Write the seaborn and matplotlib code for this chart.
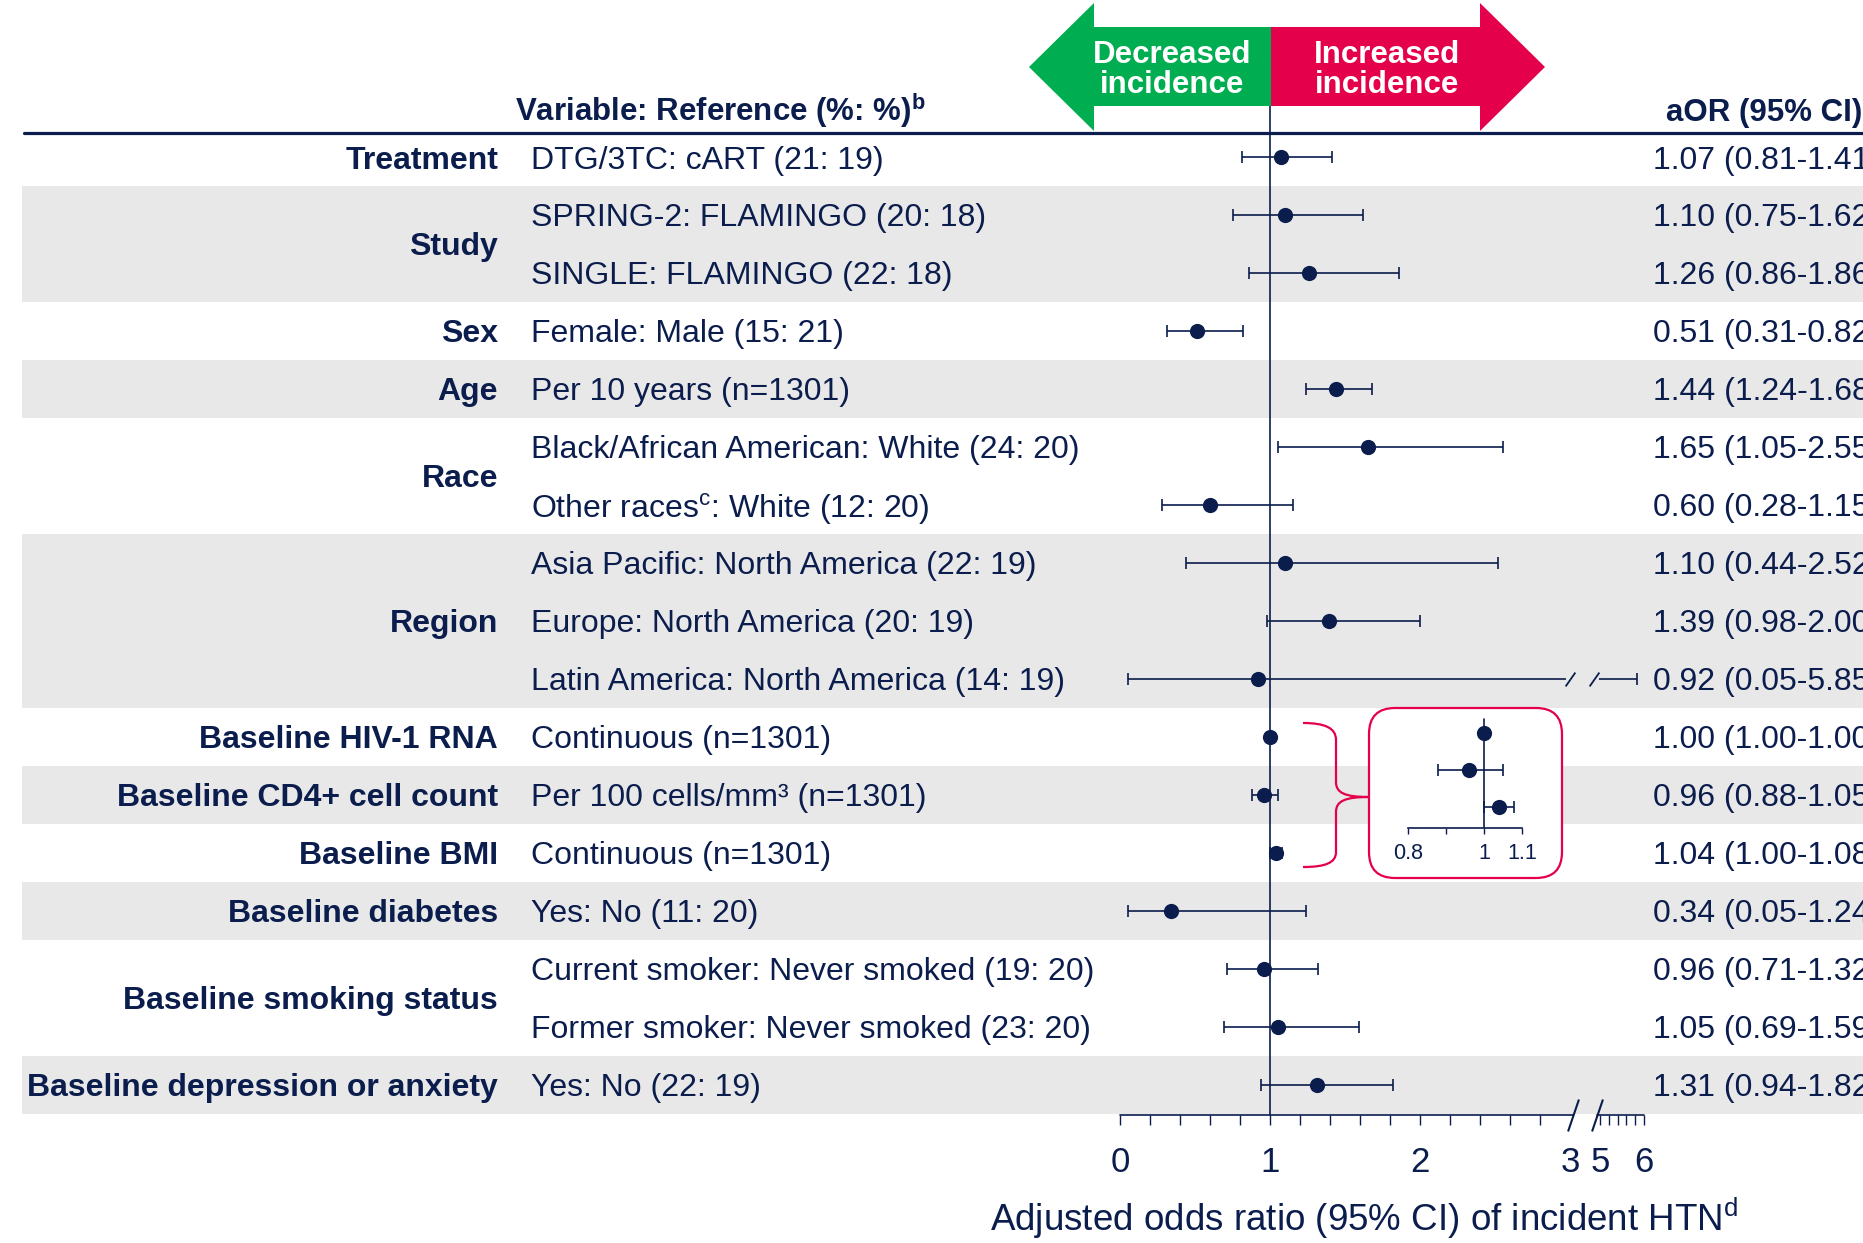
import numpy as np
import pandas as pd
import matplotlib.pyplot as plt
import matplotlib.transforms as mtransforms
from matplotlib.patches import Polygon, FancyBboxPatch, PathPatch
from matplotlib.path import Path
from matplotlib.lines import Line2D
import seaborn as sns

# ---- data ----
groups = ["Treatment", "Study", "Sex", "Age", "Race", "Region",
          "Baseline HIV-1 RNA", "Baseline CD4+ cell count", "Baseline BMI",
          "Baseline diabetes", "Baseline smoking status",
          "Baseline depression or anxiety"]
group_sizes = [1, 2, 1, 1, 2, 3, 1, 1, 1, 1, 2, 1]
comparisons = [
    "DTG/3TC: cART (21: 19)",
    "SPRING-2: FLAMINGO (20: 18)",
    "SINGLE: FLAMINGO (22: 18)",
    "Female: Male (15: 21)",
    "Per 10 years (n=1301)",
    "Black/African American: White (24: 20)",
    "Other races$^{\\mathrm{c}}$: White (12: 20)",
    "Asia Pacific: North America (22: 19)",
    "Europe: North America (20: 19)",
    "Latin America: North America (14: 19)",
    "Continuous (n=1301)",
    "Per 100 cells/mm\u00b3 (n=1301)",
    "Continuous (n=1301)",
    "Yes: No (11: 20)",
    "Current smoker: Never smoked (19: 20)",
    "Former smoker: Never smoked (23: 20)",
    "Yes: No (22: 19)",
]
aor = [1.07, 1.10, 1.26, 0.51, 1.44, 1.65, 0.60, 1.10, 1.39, 0.92,
       1.00, 0.96, 1.04, 0.34, 0.96, 1.05, 1.31]
ci_low = [0.81, 0.75, 0.86, 0.31, 1.24, 1.05, 0.28, 0.44, 0.98, 0.05,
          1.00, 0.88, 1.00, 0.05, 0.71, 0.69, 0.94]
ci_high = [1.41, 1.62, 1.86, 0.82, 1.68, 2.55, 1.15, 2.52, 2.00, 5.85,
           1.00, 1.05, 1.08, 1.24, 1.32, 1.59, 1.82]
inset_rows = [10, 11, 12]          # HIV-1 RNA, CD4+, BMI zoomed in
x_ticks = [0, 1, 2, 3, 5, 6]
inset_ticks = [0.8, 0.9, 1.0, 1.1]
inset_tick_labels = ["0.8", "", "1", "1.1"]

NAVY = "#0b1d4d"
BAND = "#e8e8e8"
GREEN = "#00ad50"
RED = "#e4004b"
FS = 23

sns.set_theme(style="white")
plt.rcParams["font.family"] = ["Liberation Sans", "DejaVu Sans"]
plt.rcParams["mathtext.fontset"] = "custom"
plt.rcParams["mathtext.rm"] = "Liberation Sans"
plt.rcParams["mathtext.bf"] = "Liberation Sans:bold"

W, H, DPI = 1863, 1243, 100
fig = plt.figure(figsize=(W / DPI, H / DPI), dpi=DPI, facecolor="white")
# pixel coordinates measured from the top-left corner
pix = mtransforms.Affine2D().scale(1 / DPI, -1 / DPI).translate(0, H / DPI) + fig.dpi_scale_trans


# broken x axis: linear 0-3, squeezed 3-5, compressed 5-6
def fwd(x):
    x = np.asarray(x, float)
    return np.where(x <= 3, x, np.where(x <= 5, 3 + (x - 3) * 0.1, 3.2 + (x - 5) * 0.293))


def inv(p):
    p = np.asarray(p, float)
    return np.where(p <= 3, p, np.where(p <= 3.2, 3 + (p - 3) * 10, 5 + (p - 3.2) / 0.293))


ax_l, ax_top, ax_bot = 22, 133, 1115
ax = fig.add_axes([ax_l / W, 1 - ax_bot / H, (W - ax_l) / W, (ax_bot - ax_top) / H])
ax.set_facecolor("none")
ax.set_xscale("function", functions=(fwd, inv))
ax.set_xlim(-(1120 - ax_l) / 150, float(inv((W - 1120) / 150)))
ax.set_ylim(16.52, -0.414)
for s in ax.spines.values():
    s.set_visible(False)

rows = np.arange(len(aor))
starts = np.cumsum([0] + group_sizes[:-1])

# alternating grey bands
for k, (st, n) in enumerate(zip(starts, group_sizes)):
    if k % 2 == 1:
        ax.axhspan(st - 0.5, st + n - 0.5, color=BAND, lw=0, zorder=0)

# reference line at 1
ax.axvline(1, ymin=0, ymax=(ax_bot - 106) / (ax_bot - ax_top), color=NAVY, lw=1.2,
           clip_on=False, zorder=2)

# confidence intervals (with break for values past 3)
slash_row = Path([(0.7, 1), (-0.7, -1)], [Path.MOVETO, Path.LINETO])
BRK_A, BRK_B = 2.97, 4.9
for y, lo, hi in zip(rows, ci_low, ci_high):
    if hi > 3:
        ax.hlines(y, lo, BRK_A, color=NAVY, lw=1.2, zorder=3)
        ax.hlines(y, BRK_B, hi, color=NAVY, lw=1.2, zorder=3)
        ax.plot([3.0, 4.6], [y, y], ls="none", marker=slash_row, ms=10,
                mec=NAVY, mfc="none", mew=1.3, zorder=3)
    else:
        ax.hlines(y, lo, hi, color=NAVY, lw=1.2, zorder=3)
    if hi > lo:
        ax.plot([lo, hi], [y, y], ls="none", marker="|", ms=8.5, mew=1.2,
                color=NAVY, zorder=3)

df = pd.DataFrame({"aor": aor, "row": rows})
sns.scatterplot(data=df, x="aor", y="row", ax=ax, s=120, color=NAVY,
                linewidth=0, zorder=4, legend=False)
ax.set_ylabel("")
ax.set_yticks([])

# x axis with break
xa = ax.get_xaxis_transform()
ax.plot([0, 3.23], [0, 0], transform=xa, color=NAVY, lw=1.2, clip_on=False)
ax.plot([4.77, 6], [0, 0], transform=xa, color=NAVY, lw=1.2, clip_on=False)
slash_axis = Path([(0.34, 1), (-0.34, -1)], [Path.MOVETO, Path.LINETO])
ax.plot([3.23, 4.77], [0, 0], transform=xa, ls="none", marker=slash_axis, ms=23,
        mec=NAVY, mfc="none", mew=1.5, clip_on=False)
ax.xaxis.set_major_locator(plt.FixedLocator(x_ticks))
ax.xaxis.set_major_formatter(plt.FixedFormatter([str(t) for t in x_ticks]))
minor = [t for t in np.round(np.arange(0.2, 2.81, 0.2), 2) if t not in x_ticks]
minor += [5.2, 5.4, 5.6, 5.8]
ax.xaxis.set_minor_locator(plt.FixedLocator(minor))
ax.tick_params(axis="x", which="both", direction="out", length=7, width=1,
               color=NAVY, labelcolor=NAVY, labelsize=25, pad=15, bottom=True)
ax.xaxis.get_major_ticks()[3].tick1line.set_visible(False)
ax.set_xlabel("Adjusted odds ratio (95% CI) of incident HTN$^{\\mathrm{d}}$",
              fontsize=26.5, color=NAVY)
ax.xaxis.set_label_coords((1364 - ax_l) / (W - ax_l), -(1218 - ax_bot) / (ax_bot - ax_top))
ax.xaxis.label.set_va("center")

# table text
yt = ax.get_yaxis_transform()
fx = lambda px: (px - ax_l) / (W - ax_l)
for g, st, n in zip(groups, starts, group_sizes):
    ax.text(fx(498), st + (n - 1) / 2, g, transform=yt, ha="right", va="center_baseline",
            fontsize=FS, fontweight="bold", color=NAVY)
for y, c, o, lo, hi in zip(rows, comparisons, aor, ci_low, ci_high):
    ax.text(fx(531), y, c, transform=yt, ha="left", va="center_baseline",
            fontsize=FS, color=NAVY)
    ax.text(fx(1653), y, f"{o:.2f} ({lo:.2f}-{hi:.2f})", transform=yt, ha="left",
            va="center_baseline", fontsize=FS, color=NAVY, clip_on=False)

# headers
fig.text(720 / W, 1 - 121 / H, "Variable: Reference (%: %)$^{\\mathbf{b}}$", ha="center",
         va="baseline", fontsize=22.5, fontweight="bold", color=NAVY)
fig.text(1666 / W, 1 - 121 / H, "aOR (95% CI)", ha="left", va="baseline",
         fontsize=22.5, fontweight="bold", color=NAVY)
fig.add_artist(Line2D([24, W], [133, 133], transform=pix, color=NAVY, lw=2.3))

# direction arrows
green = [(1029, 67), (1094, 3), (1094, 27), (1271, 27), (1271, 106), (1094, 106), (1094, 131)]
red = [(1545, 67), (1480, 3), (1480, 27), (1271, 27), (1271, 106), (1480, 106), (1480, 131)]
fig.add_artist(Polygon(green, closed=True, transform=pix, fc=GREEN, ec="none", zorder=3))
fig.add_artist(Polygon(red, closed=True, transform=pix, fc=RED, ec="none", zorder=3))
fig.text(1172 / W, 1 - 70 / H, "Decreased\nincidence", ha="center", va="center",
         fontsize=22.5, fontweight="bold", color="white", linespacing=1.02, zorder=4)
fig.text(1387 / W, 1 - 70 / H, "Increased\nincidence", ha="center", va="center",
         fontsize=22.5, fontweight="bold", color="white", linespacing=1.02, zorder=4)

# zoom inset box and brace
fig.add_artist(FancyBboxPatch((1369, 708), 193, 170, boxstyle="round,pad=0,rounding_size=26",
                              transform=pix, fc="white", ec=RED, lw=1.6, zorder=3))
brace = Path([(1303, 723), (1325, 723), (1336, 728), (1336, 740),
              (1336, 782),
              (1336, 793), (1345, 797), (1369, 797),
              (1345, 797), (1336, 801), (1336, 812),
              (1336, 852),
              (1336, 863), (1325, 867), (1303, 867)],
             [Path.MOVETO, Path.CURVE4, Path.CURVE4, Path.CURVE4,
              Path.LINETO,
              Path.CURVE4, Path.CURVE4, Path.CURVE4,
              Path.CURVE4, Path.CURVE4, Path.CURVE4,
              Path.LINETO,
              Path.CURVE4, Path.CURVE4, Path.CURVE4])
fig.add_artist(PathPatch(brace, transform=pix, fc="none", ec=RED, lw=1.6, zorder=3))

il, ir, it, ib = 1390, 1545, 715, 828
axi = fig.add_axes([il / W, 1 - ib / H, (ir - il) / W, (ib - it) / H], zorder=5)
axi.set_facecolor("none")
axi.set_xlim(0.8 - (1408 - il) / 380, 1 + (ir - 1484) / 380)
axi.set_ylim(2.568, -0.486)
for k, s in axi.spines.items():
    s.set_visible(k == "bottom")
axi.spines["bottom"].set_bounds(0.8, 1.1)
axi.spines["bottom"].set_color(NAVY)
axi.spines["bottom"].set_linewidth(1.2)
axi.axvline(1, ymin=0, ymax=(ib - 719) / (ib - it), color=NAVY, lw=1.2)
iy = np.arange(len(inset_rows))
for y, r in zip(iy, inset_rows):
    if ci_high[r] > ci_low[r]:
        axi.hlines(y, ci_low[r], ci_high[r], color=NAVY, lw=1.2)
        axi.plot([ci_low[r], ci_high[r]], [y, y], ls="none", marker="|", ms=9,
                 mew=1.2, color=NAVY)
dfi = pd.DataFrame({"aor": [aor[r] for r in inset_rows], "row": iy})
sns.scatterplot(data=dfi, x="aor", y="row", ax=axi, s=120, color=NAVY,
                linewidth=0, zorder=4, legend=False)
axi.set_xlabel("")
axi.set_ylabel("")
axi.set_yticks([])
axi.set_xticks(inset_ticks)
axi.set_xticklabels(inset_tick_labels)
axi.tick_params(axis="x", direction="out", length=4.5, width=1, color=NAVY,
                labelcolor=NAVY, labelsize=15.5, pad=6, bottom=True)

fig.savefig("out.png", dpi=DPI)
